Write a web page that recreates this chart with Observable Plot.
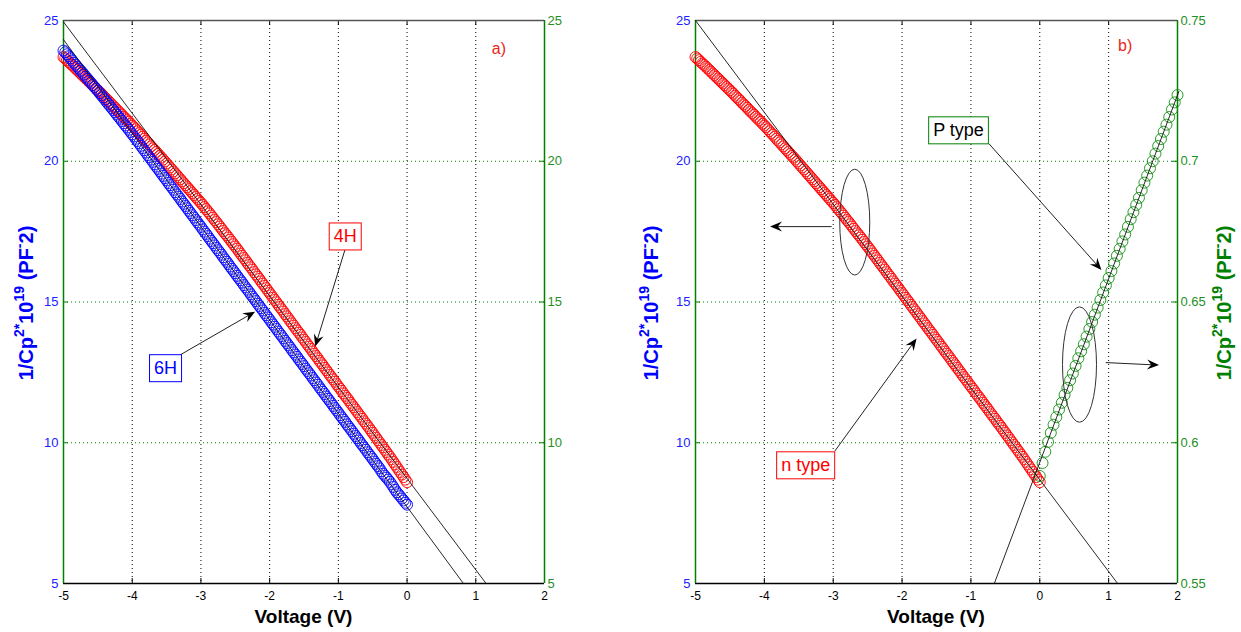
<!DOCTYPE html>
<html><head><meta charset="utf-8">
<script src="https://cdn.jsdelivr.net/npm/d3@7"></script>
<script src="https://cdn.jsdelivr.net/npm/@observablehq/plot@0.6"></script>
<style>
body{margin:0;background:#fff;}
#wrap{position:relative;width:1241px;height:632px;overflow:hidden;background:#fff;}
#wrap svg{position:absolute;top:0;}
</style></head><body><div id="wrap"></div>
<script>
// ---------- data ----------
const voltageN = [
  -5,-4.975,-4.95,-4.925,-4.9,-4.875,-4.85,-4.825,-4.8,-4.775,-4.75,-4.725,-4.7,-4.675,-4.65,-4.625,-4.6,-4.575,-4.55,-4.525,
  -4.5,-4.475,-4.45,-4.425,-4.4,-4.375,-4.35,-4.325,-4.3,-4.275,-4.25,-4.225,-4.2,-4.175,-4.15,-4.125,-4.1,-4.075,-4.05,-4.025,
  -4,-3.975,-3.95,-3.925,-3.9,-3.875,-3.85,-3.825,-3.8,-3.775,-3.75,-3.725,-3.7,-3.675,-3.65,-3.625,-3.6,-3.575,-3.55,-3.525,
  -3.5,-3.475,-3.45,-3.425,-3.4,-3.375,-3.35,-3.325,-3.3,-3.275,-3.25,-3.225,-3.2,-3.175,-3.15,-3.125,-3.1,-3.075,-3.05,-3.025,
  -3,-2.975,-2.95,-2.925,-2.9,-2.875,-2.85,-2.825,-2.8,-2.775,-2.75,-2.725,-2.7,-2.675,-2.65,-2.625,-2.6,-2.575,-2.55,-2.525,
  -2.5,-2.475,-2.45,-2.425,-2.4,-2.375,-2.35,-2.325,-2.3,-2.275,-2.25,-2.225,-2.2,-2.175,-2.15,-2.125,-2.1,-2.075,-2.05,-2.025,
  -2,-1.975,-1.95,-1.925,-1.9,-1.875,-1.85,-1.825,-1.8,-1.775,-1.75,-1.725,-1.7,-1.675,-1.65,-1.625,-1.6,-1.575,-1.55,-1.525,
  -1.5,-1.475,-1.45,-1.425,-1.4,-1.375,-1.35,-1.325,-1.3,-1.275,-1.25,-1.225,-1.2,-1.175,-1.15,-1.125,-1.1,-1.075,-1.05,-1.025,
  -1,-0.975,-0.95,-0.925,-0.9,-0.875,-0.85,-0.825,-0.8,-0.775,-0.75,-0.725,-0.7,-0.675,-0.65,-0.625,-0.6,-0.575,-0.55,-0.525,
  -0.5,-0.475,-0.45,-0.425,-0.4,-0.375,-0.35,-0.325,-0.3,-0.275,-0.25,-0.225,-0.2,-0.175,-0.15,-0.125,-0.1,-0.075,-0.05,-0.025,
  0];
// 4H sample (also the n-type sample of panel b)
const inv4H = [
  23.70,23.65,23.59,23.53,23.47,23.42,23.36,23.30,23.24,23.18,23.12,23.06,23.00,22.94,22.88,22.82,22.76,22.70,22.64,22.58,
  22.52,22.46,22.40,22.33,22.27,22.21,22.15,22.08,22.02,21.96,21.90,21.83,21.77,21.71,21.65,21.58,21.52,21.46,21.40,21.33,
  21.27,21.21,21.14,21.07,21.00,20.94,20.87,20.80,20.73,20.67,20.60,20.53,20.46,20.40,20.33,20.26,20.19,20.13,20.06,19.99,
  19.92,19.85,19.78,19.71,19.64,19.57,19.50,19.43,19.36,19.29,19.22,19.15,19.08,19.01,18.94,18.87,18.80,18.73,18.66,18.59,
  18.52,18.45,18.37,18.30,18.22,18.15,18.07,17.99,17.91,17.84,17.76,17.68,17.60,17.52,17.44,17.37,17.29,17.21,17.13,17.05,
  16.97,16.89,16.81,16.72,16.64,16.56,16.48,16.39,16.31,16.23,16.15,16.06,15.98,15.90,15.82,15.73,15.65,15.57,15.49,15.40,
  15.32,15.24,15.15,15.07,14.99,14.90,14.82,14.74,14.66,14.57,14.49,14.41,14.32,14.24,14.16,14.07,13.99,13.91,13.83,13.74,
  13.66,13.58,13.49,13.41,13.33,13.24,13.16,13.08,13.00,12.91,12.83,12.75,12.66,12.58,12.50,12.41,12.33,12.25,12.17,12.08,
  12.00,11.92,11.84,11.75,11.67,11.59,11.51,11.42,11.34,11.26,11.18,11.09,11.01,10.93,10.85,10.76,10.68,10.60,10.52,10.43,
  10.35,10.26,10.18,10.09,10.01,9.92,9.84,9.75,9.67,9.58,9.50,9.41,9.32,9.23,9.14,9.05,8.96,8.87,8.78,8.69,
  8.60];
const inv6H = [
  23.93,23.87,23.80,23.73,23.66,23.58,23.50,23.43,23.36,23.29,23.22,23.15,23.08,23.00,22.93,22.86,22.79,22.71,22.64,22.57,
  22.50,22.42,22.35,22.27,22.20,22.12,22.04,21.97,21.89,21.82,21.74,21.66,21.58,21.51,21.43,21.35,21.27,21.20,21.12,21.04,
  20.96,20.88,20.80,20.72,20.64,20.55,20.47,20.39,20.31,20.22,20.14,20.06,19.98,19.89,19.81,19.73,19.65,19.56,19.48,19.40,
  19.32,19.23,19.15,19.07,18.99,18.90,18.82,18.74,18.66,18.57,18.49,18.41,18.33,18.24,18.16,18.08,18.00,17.91,17.83,17.75,
  17.67,17.58,17.50,17.42,17.34,17.25,17.17,17.09,17.01,16.92,16.84,16.76,16.68,16.59,16.51,16.43,16.35,16.26,16.18,16.10,
  16.02,15.93,15.85,15.77,15.69,15.60,15.52,15.44,15.36,15.27,15.19,15.11,15.03,14.94,14.86,14.78,14.70,14.61,14.53,14.45,
  14.37,14.28,14.20,14.12,14.04,13.95,13.87,13.79,13.71,13.62,13.54,13.46,13.38,13.29,13.21,13.13,13.05,12.96,12.88,12.80,
  12.72,12.63,12.55,12.47,12.39,12.30,12.22,12.14,12.06,11.97,11.89,11.81,11.73,11.64,11.56,11.48,11.40,11.31,11.23,11.15,
  11.07,10.98,10.90,10.82,10.74,10.65,10.57,10.49,10.41,10.32,10.24,10.16,10.08,9.99,9.91,9.83,9.75,9.66,9.58,9.50,
  9.42,9.33,9.25,9.17,9.09,8.99,8.90,8.83,8.76,8.69,8.61,8.52,8.43,8.33,8.24,8.17,8.10,8.02,7.95,7.87,
  7.80];
const voltageP = [0,0.04,0.08,0.12,0.16,0.2,0.24,0.28,0.32,0.36,0.4,0.44,0.48,0.52,0.56,0.6,0.64,0.68,0.72,0.76,
  0.8,0.84,0.88,0.92,0.96,1,1.04,1.08,1.12,1.16,1.2,1.24,1.28,1.32,1.36,1.4,1.44,1.48,1.52,1.56,
  1.6,1.64,1.68,1.72,1.76,1.8,1.84,1.88,1.92,1.96,2];
const invP = [0.5882,0.5928,0.5968,0.6003,0.6035,0.6064,0.6091,0.6118,0.6142,0.6170,
  0.6195,0.6222,0.6246,0.6273,0.6300,0.6325,0.6350,0.6377,0.6404,0.6429,
  0.6455,0.6480,0.6507,0.6534,0.6559,0.6585,0.6610,0.6637,0.6664,0.6689,
  0.6715,0.6740,0.6767,0.6794,0.6819,0.6845,0.6870,0.6897,0.6924,0.6949,
  0.6975,0.7000,0.7027,0.7054,0.7079,0.7105,0.7130,0.7157,0.7184,0.7209,0.7235];

const xTicks = [-5,-4,-3,-2,-1,0,1,2];
const xGrid = [-4,-3,-2,-1,0,1];
const yTicks = [5,10,15,20,25];
const yGrid = [10,15,20];
const yTicksP = [0.55,0.6,0.65,0.7,0.75];

// fitted straight lines (end points)
const fit4H = [{v:-5,y:24.95},{v:1.15,y:5}];
const fit6H = [{v:-5,y:24.32},{v:0.82,y:5}];
const fitN  = [{v:-5,y:25.0},{v:1.13,y:5}];
const fitP  = [{v:-0.66,y:0.55},{v:2.02,y:0.7248}];

// annotations (data units)
const labelsA = [{v:-0.90,y:17.32,t:"4H",c:"#ff0000",b:"#ff0000"},{v:-3.515,y:12.64,t:"6H",c:"#0000ff",b:"#0000ff"}];
const arrowsA = [{v1:-0.895,y1:16.85,v2:-1.33,y2:13.40},{v1:-3.297,y1:13.10,v2:-2.205,y2:14.64}];
const labelsB = [{v:-3.40,y:9.19,t:"n type",c:"#ff0000",b:"#ff0000"},{v:-1.18,y:21.09,t:"P type",c:"#000000",b:"#008000"}];
const arrowsB = [{v1:-2.968,y1:9.69,v2:-1.782,y2:13.69},{v1:-0.729,y1:20.6,v2:0.903,y2:16.12},{v1:-3.016,y1:17.66,v2:-3.91,y2:17.66}];
const arrowsBp = [{v1:0.965,y1:0.6283,v2:1.739,y2:0.6274}];
const ellipseN = [{v:-2.68,y:17.82,dv:0.218,dy:1.88}];
const ellipseP = [{v:0.584,y:0.6276,dv:0.247,dy:0.0205}];
const tagA = [{v:1.336,y:23.99,t:"a)"}];
const tagB = [{v:1.24,y:24.1,t:"b)"}];

// ---------- drawing ----------
const FONT = "'Liberation Sans', Arial, Helvetica, sans-serif";
const H = 632, MT = 20, MB = 49;
const GREEN = "#008000", BLUE = "#0000ff", RED = "#ff0000";
const pts = (xs, ys) => xs.map((v, i) => ({v, y: ys[i]}));

function arrowMark(list) {
  return (index, scales) => {
    const g = d3.create("svg:g");
    for (const a of list) {
      const x1 = scales.x(a.v1), y1 = scales.y(a.y1), x2 = scales.x(a.v2), y2 = scales.y(a.y2);
      const ang = Math.atan2(y2 - y1, x2 - x1), ux = Math.cos(ang), uy = Math.sin(ang);
      const L = 12, HW = 5;
      const bx = x2 - ux * L, by = y2 - uy * L, nx = x2 - ux * L * 0.65, ny = y2 - uy * L * 0.65;
      g.append("line").attr("x1", x1).attr("y1", y1).attr("x2", nx).attr("y2", ny)
        .attr("stroke", "#222").attr("stroke-width", 1);
      g.append("path").attr("d", `M${x2},${y2}L${bx - uy * HW},${by + ux * HW}L${nx},${ny}L${bx + uy * HW},${by - ux * HW}Z`)
        .attr("fill", "#000");
    }
    return g.node();
  };
}
function ellipseMark(list) {
  return (index, scales) => {
    const g = d3.create("svg:g");
    for (const e of list) {
      const cx = scales.x(e.v), cy = scales.y(e.y);
      g.append("ellipse").attr("cx", cx).attr("cy", cy)
        .attr("rx", Math.abs(scales.x(e.v + e.dv) - cx)).attr("ry", Math.abs(scales.y(e.y + e.dy) - cy))
        .attr("fill", "none").attr("stroke", "#333").attr("stroke-width", 1);
    }
    return g.node();
  };
}
function frameMarks(innerW, innerH, rightLabels) {
  return [
    Plot.ruleX(xGrid, {x: d => d, stroke: "#000", strokeDasharray: "1,3", strokeWidth: 1}),
    Plot.ruleY(yGrid, {y: d => d, stroke: GREEN, strokeDasharray: "1,3", strokeWidth: 1}),
    Plot.tickX(xTicks, {x: d => d, insetTop: innerH - 5, stroke: "#000"}),
    Plot.tickX(xTicks, {x: d => d, insetBottom: innerH - 5, stroke: "#000"}),
    Plot.tickY(yTicks, {y: d => d, insetRight: innerW - 5, stroke: GREEN}),
    Plot.tickY(yTicks, {y: d => d, insetLeft: innerW - 5, stroke: GREEN}),
    Plot.ruleY([25], {y: d => d, stroke: "#555", strokeWidth: 1.5}),
    Plot.ruleY([5], {y: d => d, stroke: "#000", strokeWidth: 1.5}),
    Plot.ruleX([-5], {x: d => d, stroke: GREEN, strokeWidth: 1.5}),
    Plot.ruleX([2], {x: d => d, stroke: GREEN, strokeWidth: 1.5}),
    Plot.axisX(xTicks, {anchor: "bottom", tickSize: 0, tickPadding: 8, tickFormat: d => String(d), fontSize: 12, color: "#000", label: null}),
    Plot.axisY(yTicks, {anchor: "left", tickSize: 0, tickPadding: 5, tickFormat: d => String(d), fontSize: 13, color: "#2020ff", label: null}),
    ...(rightLabels ? [Plot.axisY(yTicks, {anchor: "right", tickSize: 0, tickPadding: 3, tickFormat: d => String(d), fontSize: 13, color: "#1f8f1f", label: null})] : [])
  ];
}
function labelMarks(list) {
  return list.map((l) => Plot.text([l], {x: "v", y: "y", text: "t", fill: l.c, fontSize: 18}));
}
function boxes(svg, list) {
  const texts = Array.from(svg.querySelectorAll("text"));
  for (const l of list) {
    for (const el of texts) {
      if (el.textContent !== l.t) continue;
      const b = el.getBBox();
      const r = document.createElementNS("http://www.w3.org/2000/svg", "rect");
      r.setAttribute("x", b.x - 4.5); r.setAttribute("y", b.y - 3.5);
      r.setAttribute("width", b.width + 9); r.setAttribute("height", b.height + 7);
      r.setAttribute("fill", "#fff"); r.setAttribute("stroke", l.b); r.setAttribute("stroke-width", 1);
      const tr = el.getAttribute("transform");
      if (tr) r.setAttribute("transform", tr);
      el.parentNode.insertBefore(r, el);
    }
  }
}
function yLabel(svg, x, y, color) {
  const t = d3.select(svg).append("text")
    .attr("transform", `translate(${x},${y}) rotate(-90)`).attr("text-anchor", "middle")
    .attr("fill", color).attr("font-size", 20).attr("font-weight", "bold").attr("font-family", FONT);
  const parts = [["1/Cp", 0], ["2*", 1], ["10", 0], ["19", 1], [" (PF", 0], ["-", 1], ["2)", 0]];
  let up = false;
  for (const [s, sup] of parts) {
    const ts = t.append("tspan").text(s);
    if (sup) { ts.attr("font-size", 14).attr("dy", up ? 0 : -9); up = true; }
    else { ts.attr("dy", up ? 9 : 0); up = false; }
  }
}
function xLabel(svg, x) {
  d3.select(svg).append("text").attr("x", x).attr("y", 623).attr("text-anchor", "middle")
    .attr("font-size", 19).attr("font-weight", "bold").attr("font-family", FONT).attr("fill", "#000").text("Voltage (V)");
}
function mk(width, ml, mr, ydom, marks, transparent) {
  return Plot.plot({
    width, height: H, marginLeft: ml, marginRight: mr, marginTop: MT, marginBottom: MB,
    x: {domain: [-5, 2], label: null, axis: null},
    y: {domain: ydom, label: null, axis: null},
    style: {fontFamily: FONT, background: transparent ? "transparent" : "#fff", overflow: "visible"},
    marks
  });
}

const wrap = document.getElementById("wrap");
const dotOpts = (c) => ({x: "v", y: "y", r: 5.5, stroke: c, strokeWidth: 0.9});

// ----- panel a -----
{
  const W = 620, ml = 63, mr = 76, innerW = W - ml - mr, innerH = H - MT - MB;
  const svg = mk(W, ml, mr, [5, 25], [
    ...frameMarks(innerW, innerH, true),
    Plot.dot(pts(voltageN, inv4H), dotOpts(RED)),
    Plot.dot(pts(voltageN, inv6H), dotOpts(BLUE)),
    Plot.line(fit4H, {x: "v", y: "y", stroke: "#111", strokeWidth: 0.9}),
    Plot.line(fit6H, {x: "v", y: "y", stroke: "#111", strokeWidth: 0.9}),
    arrowMark(arrowsA),
    ...labelMarks(labelsA),
    Plot.text(tagA, {x: "v", y: "y", text: "t", fill: "#e8261a", fontSize: 16})
  ]);
  svg.style.left = "0px";
  wrap.appendChild(svg);
  boxes(svg, labelsA);
  yLabel(svg, 33, 303, BLUE);
  xLabel(svg, ml + innerW / 2);
}

// ----- panel b -----
{
  const W = 621, ml = 75, mr = 64, innerW = W - ml - mr, innerH = H - MT - MB;
  const svg = mk(W, ml, mr, [5, 25], [
    ...frameMarks(innerW, innerH, false),
    Plot.dot(pts(voltageN, inv4H), dotOpts(RED)),
    Plot.line(fitN, {x: "v", y: "y", stroke: "#111", strokeWidth: 0.9}),
    ellipseMark(ellipseN),
    arrowMark(arrowsB),
    ...labelMarks(labelsB),
    Plot.text(tagB, {x: "v", y: "y", text: "t", fill: "#e8261a", fontSize: 16})
  ]);
  svg.style.left = "620px";
  wrap.appendChild(svg);
  boxes(svg, labelsB);
  yLabel(svg, 38, 303, BLUE);
  xLabel(svg, ml + innerW / 2);

  const svg2 = mk(W, ml, mr, [0.55, 0.75], [
    Plot.dot(pts(voltageP, invP), dotOpts("#138f13")),
    Plot.line(fitP, {x: "v", y: "y", stroke: "#111", strokeWidth: 0.9}),
    ellipseMark(ellipseP),
    arrowMark(arrowsBp),
    Plot.axisY(yTicksP, {anchor: "right", tickSize: 0, tickPadding: 3, tickFormat: d => String(d), fontSize: 13, color: "#1f8f1f", label: null})
  ], true);
  svg2.style.left = "620px";
  svg2.style.pointerEvents = "none";
  wrap.appendChild(svg2);
  yLabel(svg2, 611, 303, GREEN);
}
</script></body></html>
